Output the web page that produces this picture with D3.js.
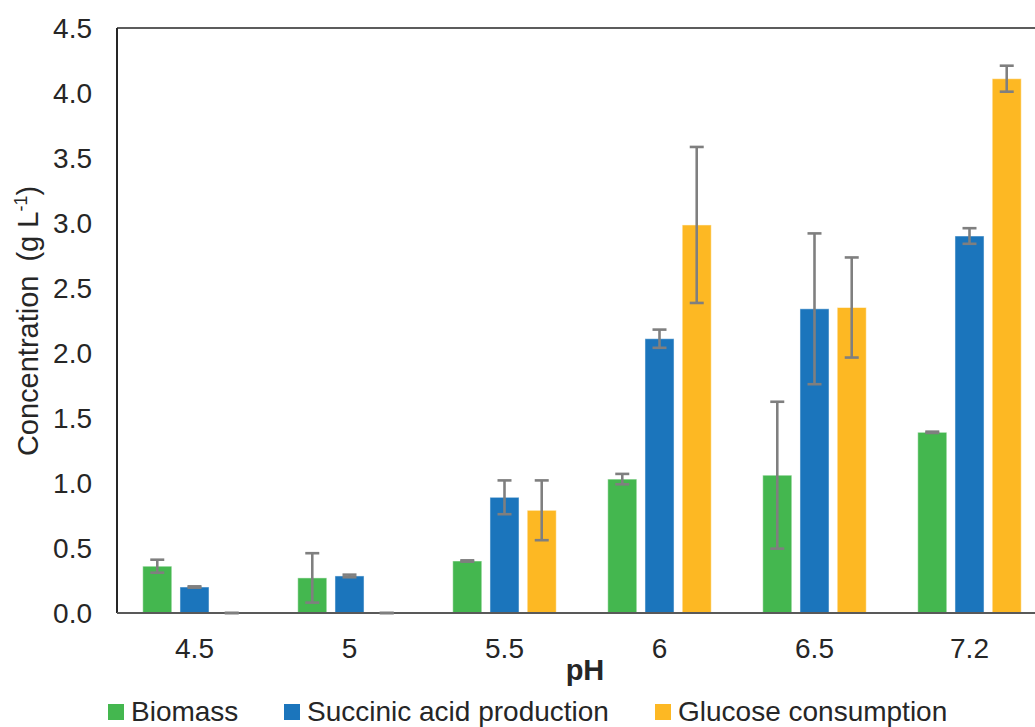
<!DOCTYPE html>
<html><head><meta charset="utf-8">
<script src="https://cdn.jsdelivr.net/npm/d3@7"></script>
<style>body{margin:0;background:#fff;}svg{display:block;font-family:"Liberation Sans",Arial,sans-serif;}</style>
</head><body><svg id="c" width="1035" height="727"></svg>
<script>
const categories = ["4.5","5","5.5","6","6.5","7.2"];
const seriesNames = ["Biomass","Succinic acid production","Glucose consumption"];
const biomass =   [0.36, 0.27, 0.40, 1.03, 1.06, 1.39];
const biomassErr =[0.05, 0.19, 0.005,0.04, 0.565,0.005];
const succinic =  [0.20, 0.285,0.89, 2.11, 2.34, 2.90];
const succinicErr=[0.005,0.01, 0.13, 0.07, 0.58, 0.06];
const glucose =   [0.00, 0.00, 0.79, 2.985,2.35, 4.11];
const glucoseErr= [0.00, 0.00, 0.23, 0.60, 0.385,0.10];
const yTicks = [0,0.5,1,1.5,2,2.5,3,3.5,4,4.5];
const colors = ["#44b74f","#1b75bc","#fdb823"];

const svg = d3.select("#c");
const L=117, R=1047, T=28, B=613;
const x = d3.scaleBand().domain(categories).range([L,R]);
const y = d3.scaleLinear().domain([0,4.5]).range([B,T]);
const inner = d3.scaleBand().domain([0,1,2]).range([-51.75,51.75]).paddingInner(0.22);

const data = [biomass, succinic, glucose];
const errs = [biomassErr, succinicErr, glucoseErr];

// bars
data.forEach((vals,s)=>{
  svg.append("g").selectAll("rect").data(vals).join("rect")
    .attr("x",(d,i)=>x(categories[i])+x.bandwidth()/2+inner(s))
    .attr("width",inner.bandwidth())
    .attr("y",d=>y(d))
    .attr("height",d=>B-y(d))
    .attr("fill",colors[s])
    .attr("stroke","#ffffff").attr("stroke-opacity",0.5).attr("stroke-width",1);
});

// axes lines
svg.append("line").attr("x1",L).attr("x2",1035).attr("y1",T).attr("y2",T).attr("stroke","#262626").attr("stroke-width",1.5);
svg.append("line").attr("x1",L).attr("x2",L).attr("y1",T).attr("y2",B).attr("stroke","#262626").attr("stroke-width",2);
svg.append("line").attr("x1",L).attr("x2",1035).attr("y1",B).attr("y2",B).attr("stroke","#595959").attr("stroke-width",1.8);

// error bars
data.forEach((vals,s)=>{
  const g = svg.append("g").attr("stroke","#7f7f7f").attr("stroke-width",2.6);
  vals.forEach((v,i)=>{
    const cx = x(categories[i])+x.bandwidth()/2+inner(s)+inner.bandwidth()/2;
    const e = errs[s][i];
    const y1=y(v+e), y2=y(v-e);
    g.append("line").attr("x1",cx).attr("x2",cx).attr("y1",y1).attr("y2",y2);
    g.append("line").attr("x1",cx-7).attr("x2",cx+7).attr("y1",y1).attr("y2",y1);
    g.append("line").attr("x1",cx-7).attr("x2",cx+7).attr("y1",y2).attr("y2",y2);
  });
});

// y tick labels
svg.append("g").selectAll("text").data(yTicks).join("text")
  .attr("x",92).attr("y",d=>y(d)).attr("dy","0.36em").attr("text-anchor","end")
  .attr("font-size",28).attr("fill","#262626").text(d=>d.toFixed(1));

// x tick labels
svg.append("g").selectAll("text").data(categories).join("text")
  .attr("x",d=>x(d)+x.bandwidth()/2).attr("y",648).attr("dy","0.36em").attr("text-anchor","middle")
  .attr("font-size",28).attr("fill","#262626").text(d=>d);

// x title
svg.append("text").attr("x",585).attr("y",680).attr("text-anchor","middle")
  .attr("font-size",29).attr("font-weight","bold").attr("fill","#262626").text("pH");

// y title
const yt = svg.append("text").attr("transform","translate(38,321) rotate(-90)")
  .attr("text-anchor","middle").attr("font-size",29).attr("fill","#262626");
yt.append("tspan").text("Concentration");
yt.append("tspan").attr("dx",14).text("(g L");
yt.append("tspan").attr("font-size",18).attr("dy",-11).text("-1");
yt.append("tspan").attr("dy",11).text(")");

// legend
const legX=[108,284,655];
seriesNames.forEach((n,i)=>{
  svg.append("rect").attr("x",legX[i]).attr("y",704).attr("width",16).attr("height",16).attr("fill",colors[i]);
  svg.append("text").attr("x",legX[i]+23).attr("y",721)
    .attr("font-size",28).attr("fill","#262626").text(n);
});
</script></body></html>
